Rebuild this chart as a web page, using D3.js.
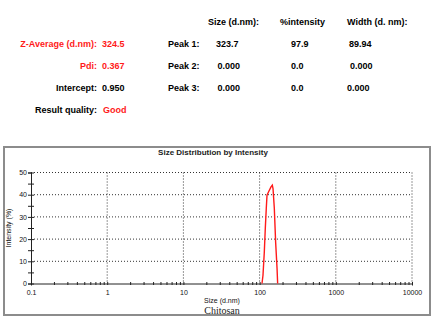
<!DOCTYPE html>
<html>
<head>
<meta charset="utf-8">
<script src="https://cdn.jsdelivr.net/npm/d3@7"></script>
<style>
  body { margin: 0; background: #fff; }
  text { font-family: "Liberation Sans", Arial, sans-serif; }
  .hdr { font-size: 9px; font-weight: bold; }
  .tick text { font-size: 7px; }
</style>
</head>
<body>
<div id="chart"></div>
<script>
// summary table
var colHeads = ["Size (d.nm):", "%intensity", "Width (d. nm):"];
var peakNames = ["Peak 1:", "Peak 2:", "Peak 3:"];
var peakSize = ["323.7", "0.000", "0.000"];
var peakInt = ["97.9", "0.0", "0.0"];
var peakWidth = ["89.94", "0.000", "0.000"];
var leftLabels = ["Z-Average (d.nm):", "Pdi:", "Intercept:", "Result quality:"];
var leftValues = ["324.5", "0.367", "0.950", "Good"];
var leftLabelRed = [true, true, false, false];
var leftValueRed = [true, true, false, true];

// distribution curve
var sizes = [107.5, 110.8, 115.3, 118.8, 122.4, 125.1, 131.3, 141.2, 146.9, 150.0, 156.0, 162.3, 169.4, 172.5];
var intensity = [0, 3.7, 14.2, 24.9, 33.9, 39.8, 41.3, 43.5, 44.3, 42.8, 33.9, 18.7, 6.9, 0];

var xTicks = [0.1, 1, 10, 100, 1000, 10000];
var yTicks = [0, 10, 20, 30, 40, 50];

var W = 432, H = 317;
var red = "#ff1a1a";

var svg = d3.select("#chart").append("svg")
    .attr("width", W)
    .attr("height", H);

// header rows
var rowY = [24.5, 46.5, 68.5, 90.5, 112.5];
var colX = [208, 280, 347];

svg.selectAll(".colhead")
    .data(colHeads)
    .enter().append("text")
    .attr("class", "hdr")
    .attr("x", function(d, i) { return colX[i]; })
    .attr("y", rowY[0])
    .text(function(d) { return d; });

svg.selectAll(".peakname")
    .data(peakNames)
    .enter().append("text")
    .attr("class", "hdr")
    .attr("x", 168)
    .attr("y", function(d, i) { return rowY[i + 1]; })
    .text(function(d) { return d; });

[peakSize, peakInt, peakWidth].forEach(function(col, c) {
  var xs = [[216, 217.5, 217.5], [291, 291, 291], [349, 350, 347]][c];
  svg.selectAll(".pv" + c)
      .data(col)
      .enter().append("text")
      .attr("class", "hdr")
      .attr("x", function(d, i) { return xs[i]; })
      .attr("y", function(d, i) { return rowY[i + 1]; })
      .text(function(d) { return d; });
});

svg.selectAll(".llab")
    .data(leftLabels)
    .enter().append("text")
    .attr("class", "hdr")
    .attr("x", 97)
    .attr("y", function(d, i) { return rowY[i + 1]; })
    .attr("text-anchor", "end")
    .style("fill", function(d, i) { return leftLabelRed[i] ? red : "#000"; })
    .text(function(d) { return d; });

svg.selectAll(".lval")
    .data(leftValues)
    .enter().append("text")
    .attr("class", "hdr")
    .attr("x", function(d, i) { return i == 3 ? 103 : 102; })
    .attr("y", function(d, i) { return rowY[i + 1]; })
    .style("fill", function(d, i) { return leftValueRed[i] ? red : "#000"; })
    .text(function(d) { return d; });

// chart frame
svg.append("rect")
    .attr("x", 4)
    .attr("y", 147)
    .attr("width", 426)
    .attr("height", 168)
    .attr("fill", "none")
    .attr("stroke", "#8c8c8c")
    .attr("stroke-width", 2);

svg.append("text")
    .attr("x", 213)
    .attr("y", 155)
    .attr("text-anchor", "middle")
    .style("font-size", "8px")
    .style("font-weight", "bold")
    .style("fill", "#222")
    .text("Size Distribution by Intensity");

var plotL = 31, plotR = 412, plotT = 172.5, plotB = 283.5;

var x = d3.scaleLog().domain([0.1, 10000]).range([plotL, plotR]);
var y = d3.scaleLinear().domain([0, 50]).range([plotB, plotT]);

// dotted grid
svg.append("g")
  .selectAll("line")
  .data(yTicks.slice(1))
  .enter().append("line")
    .attr("x1", plotL).attr("x2", plotR)
    .attr("y1", function(d) { return y(d); })
    .attr("y2", function(d) { return y(d); })
    .attr("stroke", "#333")
    .attr("stroke-width", 1)
    .attr("stroke-dasharray", "1,2");

svg.append("g")
  .selectAll("line")
  .data(xTicks.slice(1))
  .enter().append("line")
    .attr("x1", function(d) { return x(d); })
    .attr("x2", function(d) { return x(d); })
    .attr("y1", plotT).attr("y2", plotB)
    .attr("stroke", "#333")
    .attr("stroke-width", 1)
    .attr("stroke-dasharray", "1,2");

// x axis with minor ticks
var minor = [];
xTicks.slice(0, -1).forEach(function(d) {
  for (var k = 1; k < 10; k++) minor.push(d * k);
});
minor.push(10000);

var xAxis = svg.append("g")
    .attr("transform", "translate(0," + plotB + ")")
    .call(d3.axisBottom(x)
      .tickValues(minor)
      .tickSize(2)
      .tickFormat(function(d) { return xTicks.indexOf(d) >= 0 ? d3.format("")(d) : ""; }));
xAxis.select(".domain").attr("stroke", "#222");
xAxis.selectAll(".tick line").attr("stroke", "#222").attr("y1", -1.5).attr("y2", 1.5);
xAxis.selectAll(".tick text").attr("dy", "0.9em").style("fill", "#111");

// y axis, ticks every 5
var yAxis = svg.append("g")
    .attr("transform", "translate(" + plotL + ",0)")
    .call(d3.axisLeft(y)
      .tickValues(d3.range(0, 51, 5))
      .tickSize(3)
      .tickPadding(1)
      .tickFormat(function(d) { return d % 10 == 0 ? d : ""; }));
yAxis.select(".domain").attr("stroke", "#222");
yAxis.selectAll(".tick line").attr("stroke", "#222").attr("x1", 3);
yAxis.selectAll(".tick text").style("fill", "#111");

svg.append("text")
    .attr("transform", "translate(11," + ((plotT + plotB) / 2) + ") rotate(-90)")
    .attr("text-anchor", "middle")
    .style("font-size", "7px")
    .style("fill", "#111")
    .text("Intensity (%)");

svg.append("text")
    .attr("x", 222)
    .attr("y", 303)
    .attr("text-anchor", "middle")
    .style("font-size", "7px")
    .style("fill", "#111")
    .text("Size (d.nm)");

svg.append("text")
    .attr("x", 222)
    .attr("y", 313.5)
    .attr("text-anchor", "middle")
    .style("font-family", "'Liberation Serif', 'Times New Roman', serif")
    .style("font-size", "10px")
    .style("fill", "#222")
    .text("Chitosan");

// distribution curve
var line = d3.line()
    .x(function(d) { return x(d[0]); })
    .y(function(d) { return y(d[1]); });

svg.append("path")
    .datum(d3.zip(sizes, intensity))
    .attr("d", line)
    .attr("fill", "none")
    .attr("stroke", red)
    .attr("stroke-width", 1.4);
</script>
</body>
</html>
